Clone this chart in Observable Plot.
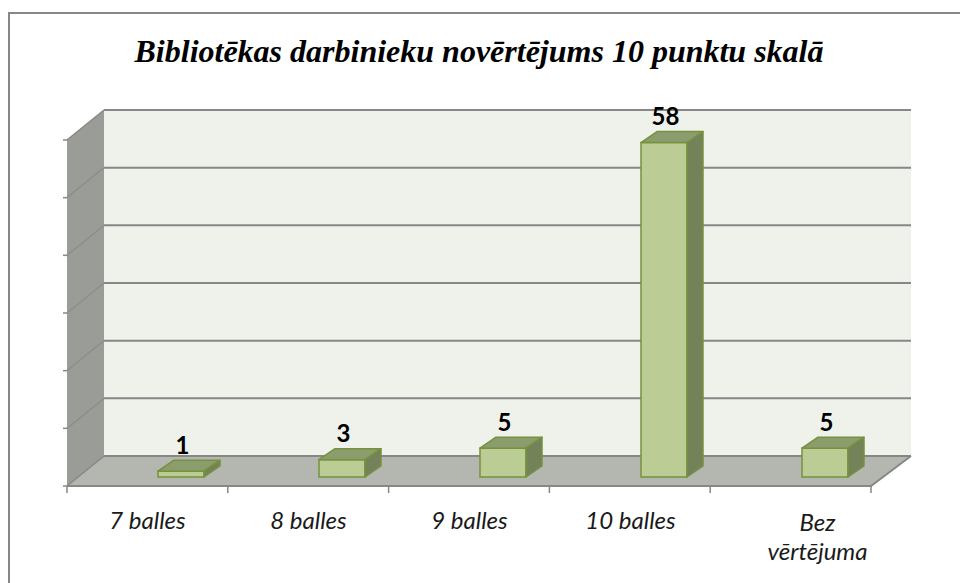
<!DOCTYPE html>
<html><head><meta charset="utf-8">
<script src="https://cdn.jsdelivr.net/npm/d3@7"></script>
<script src="https://cdn.jsdelivr.net/npm/@observablehq/plot@0.6"></script>
<style>
body{margin:0;background:#fff;}
#wrap{position:relative;width:960px;height:583px;overflow:hidden;background:#fff;}
#frame{position:absolute;left:8px;top:12px;width:1000px;height:1000px;border-left:2px solid #878787;border-top:2px solid #878787;}
#title{position:absolute;left:0;width:958px;top:36px;line-height:30px;text-align:center;font-family:"Liberation Serif";font-style:italic;font-weight:bold;font-size:32px;color:#000;white-space:nowrap;}
#chart{position:absolute;left:0;top:0;}
</style></head><body>
<div id="wrap"><div id="frame"></div><div id="title"></div><div id="chart"></div></div>
<script>
const title = "Bibliotēkas darbinieku novērtējums 10 punktu skalā";
const categories = ["7 balles", "8 balles", "9 balles", "10 balles", "Bez\nvērtējuma"];
const values = [1, 3, 5, 58, 5];
const yTicks = [0, 10, 20, 30, 40, 50, 60];

document.getElementById("title").textContent = title;
const data = categories.map((c, i) => ({cat: c, value: values[i]}));

const DX = 16, DY = -11; // bar depth
const GRID = "#878787";

function walls(index, scales, channels, dims) {
  const {y} = scales;
  const {width, marginLeft, marginRight} = dims;
  const x0 = marginLeft, x1 = width - marginRight;
  const y0 = y(0), yMax = y(yTicks[yTicks.length - 1]);
  const bx0 = x0 + 5, bx1 = x1 + 4, bdy = -21;
  const fx0 = x0 - 32, fx1 = x1 - 36, fdy = 9;
  const g = d3.create("svg:g");
  g.append("rect").attr("x", bx0).attr("y", yMax + bdy).attr("width", bx1 - bx0).attr("height", y0 - yMax).attr("fill", "#eff1eb");
  g.append("path").attr("d", `M${fx0},${yMax + fdy}L${bx0},${yMax + bdy}L${bx0},${y0 + bdy}L${fx0},${y0 + fdy}Z`).attr("fill", "#999c97");
  g.append("path").attr("d", `M${fx0},${y0 + fdy}L${fx1},${y0 + fdy}L${bx1},${y0 + bdy}L${bx0},${y0 + bdy}Z`).attr("fill", "#b4b6b0");
  for (const t of yTicks) {
    const yy = y(t);
    g.append("path").attr("d", `M${fx0},${yy + fdy}L${bx0},${yy + bdy}`).attr("stroke", t === yTicks[yTicks.length - 1] || t === 0 ? GRID : "#8d8f8b").attr("stroke-width", 1.5).attr("fill", "none");
    g.append("path").attr("d", `M${bx0},${yy + bdy}L${bx1},${yy + bdy}`).attr("stroke", GRID).attr("stroke-width", 2).attr("fill", "none");
    g.append("path").attr("d", `M${fx0 - 4},${yy + fdy}L${fx0},${yy + fdy}`).attr("stroke", GRID).attr("stroke-width", 1.5);
  }
  g.append("path").attr("d", `M${fx0},${y0 + fdy}L${fx1},${y0 + fdy}L${bx1},${y0 + bdy}`).attr("stroke", GRID).attr("stroke-width", 2).attr("fill", "none");
  const n = categories.length;
  for (let i = 0; i <= n; i++) {
    const xx = fx0 + (fx1 - fx0) * i / n;
    g.append("path").attr("d", `M${xx},${y0 + fdy}L${xx},${y0 + fdy + 7}`).attr("stroke", GRID).attr("stroke-width", 1.5);
  }
  return g.node();
}

function faces(index, scales) {
  const {x, y} = scales;
  const bw = x.bandwidth();
  const g = d3.create("svg:g").attr("stroke", "#76923c").attr("stroke-width", 1.5).attr("stroke-linejoin", "round");
  for (const d of data) {
    const xl = x(d.cat), xr = xl + bw, yt = y(d.value), yb = y(0);
    g.append("path").attr("d", `M${xl},${yt}L${xr},${yt}L${xr + DX},${yt + DY}L${xl + DX},${yt + DY}Z`).attr("fill", "#8b9c6d");
    g.append("path").attr("d", `M${xr},${yt}L${xr + DX},${yt + DY}L${xr + DX},${yb + DY}L${xr},${yb}Z`).attr("fill", "#748259");
  }
  return g.node();
}

const chart = Plot.plot({
  width: 960,
  height: 583,
  marginLeft: 99,
  marginRight: 53,
  marginTop: 131,
  marginBottom: 106,
  style: {background: "transparent", overflow: "visible"},
  x: {type: "band", domain: categories, paddingInner: 0.715, paddingOuter: 0.3575, axis: null},
  y: {domain: [0, 60], axis: null},
  marks: [
    walls,
    Plot.barY(data, {x: "cat", y: "value", fill: "#bbcd94", stroke: "#76923c", strokeWidth: 1.5}),
    faces,
    Plot.text(data, {x: "cat", y: "value", text: d => String(d.value), lineAnchor: "bottom", dy: -18, dx: 1,
      fontFamily: "Lato", fontWeight: "bold", fontSize: 24, fill: "#000"}),
    Plot.text(data, {filter: (d, i) => i < categories.length - 1, x: "cat", text: "cat", frameAnchor: "bottom", lineAnchor: "top", dy: 34, dx: -34,
      fontFamily: "Lato", fontStyle: "italic", fontSize: 24, fill: "#1a1a1a"}),
    Plot.text(data, {filter: (d, i) => i === categories.length - 1, x: "cat", text: "cat", frameAnchor: "bottom", lineAnchor: "top", dy: 34, dx: -8, lineHeight: 1.17,
      fontFamily: "Lato", fontStyle: "italic", fontSize: 24, fill: "#1a1a1a"})
  ]
});
document.getElementById("chart").appendChild(chart);
</script>
</body></html>
